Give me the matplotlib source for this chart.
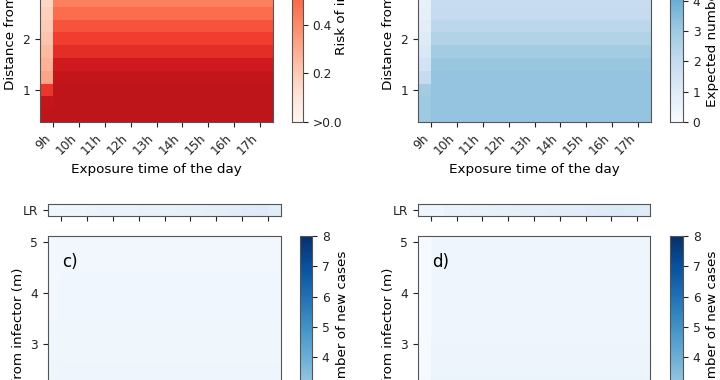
import matplotlib
matplotlib.use("Agg")
import matplotlib.pyplot as plt
import numpy as np

# grid: half-hour exposure slots and 0.25 m distance rows
TIME_EDGES = [8.5, 9.0, 9.5, 10.0, 10.5, 11.0, 11.5, 12.0, 12.5, 13.0,
              13.5, 14.0, 14.5, 15.0, 15.5, 16.0, 16.5, 17.0, 17.5]
DIST_EDGES = [0.375, 0.625, 0.875, 1.125, 1.375, 1.625, 1.875, 2.125, 2.375,
              2.625, 2.875, 3.125, 3.375, 3.625, 3.875, 4.125, 4.375, 4.625,
              4.875, 5.125]
HOUR_TICKS = [9, 10, 11, 12, 13, 14, 15, 16, 17]
HOUR_LABELS = ["9h", "10h", "11h", "12h", "13h", "14h", "15h", "16h", "17h"]

# a) risk of infection, per distance row (0.5 m .. 5.0 m)
risk_rows = [0.79, 0.79, 0.79, 0.78, 0.74, 0.67, 0.62, 0.56, 0.49, 0.43,
             0.38, 0.34, 0.30, 0.27, 0.24, 0.21, 0.19, 0.17, 0.15]
risk_first_slot = [0.79, 0.78, 0.64, 0.32, 0.28, 0.25, 0.22, 0.20, 0.18, 0.16,
                   0.14, 0.13, 0.12, 0.11, 0.10, 0.09, 0.08, 0.07, 0.07]

# b) expected number of new cases
cases_b_rows = [3.2, 3.2, 3.2, 3.2, 3.1, 2.9, 2.5, 2.25, 2.0, 1.85,
                1.7, 1.55, 1.45, 1.35, 1.25, 1.15, 1.05, 1.0, 0.95]
cases_b_first_slot = [3.0, 3.0, 2.9, 2.0, 1.5, 1.2, 1.0, 0.85, 0.75, 0.65,
                      0.6, 0.55, 0.5, 0.45, 0.4, 0.38, 0.35, 0.33, 0.3]

# c) and d) expected number of new cases
cases_c_rows = [0.9, 0.8, 0.7, 0.6, 0.55, 0.5, 0.45, 0.4, 0.36, 0.34,
                0.33, 0.32, 0.31, 0.30, 0.30, 0.29, 0.28, 0.28, 0.27]
cases_c_first_slot = [0.8, 0.7, 0.6, 0.5, 0.45, 0.4, 0.38, 0.35, 0.32, 0.3,
                      0.3, 0.29, 0.28, 0.27, 0.27, 0.26, 0.25, 0.25, 0.25]
cases_d_rows = [1.0, 0.9, 0.8, 0.7, 0.6, 0.55, 0.5, 0.46, 0.43, 0.42,
                0.41, 0.40, 0.40, 0.39, 0.38, 0.38, 0.37, 0.36, 0.36]
cases_d_first_slot = [0.6, 0.5, 0.4, 0.3, 0.2, 0.15, 0.12, 0.1, 0.08, 0.07,
                      0.06, 0.06, 0.05, 0.05, 0.05, 0.04, 0.04, 0.04, 0.04]

# LR strips above c) and d)
lr_c = [0.30, 0.35, 0.40, 0.45, 0.50, 0.50, 0.55, 0.60, 0.60,
        0.65, 0.70, 0.70, 0.75, 0.80, 0.85, 0.95, 1.00, 0.90]
lr_d = [0.35, 0.40, 0.50, 0.55, 0.60, 0.65, 0.70, 0.75, 0.80,
        0.80, 0.85, 0.85, 0.90, 0.95, 1.05, 1.10, 1.05, 0.95]

W, H = 720, 380
SPINE = "#555555"


def px(left, top, w, h):
    return [left / W, 1 - (top + h) / H, w / W, h / H]


def make_grid(rows, first):
    grid = np.repeat(np.array(rows)[:, None], len(TIME_EDGES) - 1, axis=1)
    grid[:, 0] = first
    return grid


def style(ax):
    for s in ax.spines.values():
        s.set_color(SPINE)
    ax.tick_params(colors="#222222", labelsize=8.8)


def heat_panel(fig, rect, cbar_rect, grid, cmap, vmax, cbar_ticks, cbar_labels,
               label, tag=None):
    ax = fig.add_axes(px(*rect))
    mesh = ax.pcolormesh(TIME_EDGES, DIST_EDGES, grid, cmap=cmap, vmin=0, vmax=vmax)
    ax.set_xlim(TIME_EDGES[0], TIME_EDGES[-1])
    ax.set_ylim(DIST_EDGES[0], DIST_EDGES[-1])
    ax.set_xticks(HOUR_TICKS)
    ax.set_xticklabels(HOUR_LABELS, rotation=45, ha="right")
    ax.set_yticks([1, 2, 3, 4, 5])
    ax.set_xlabel("Exposure time of the day", fontsize=9.7)
    ax.set_ylabel("Distance from infector (m)", fontsize=9.7)
    style(ax)
    if tag:
        ax.text(0.06, 0.93, tag, transform=ax.transAxes, fontsize=12,
                va="top", ha="left")
    cax = fig.add_axes(px(*cbar_rect))
    cb = fig.colorbar(mesh, cax=cax)
    cb.set_ticks(cbar_ticks)
    cb.set_ticklabels(cbar_labels)
    cb.outline.set_edgecolor(SPINE)
    cb.set_label(label, fontsize=9.7)
    style(cax)
    return ax, cax


def lr_strip(fig, rect, values):
    ax = fig.add_axes(px(*rect))
    ax.pcolormesh(TIME_EDGES, [0, 1], np.array([values]), cmap="Blues", vmin=0, vmax=8)
    ax.set_xlim(TIME_EDGES[0], TIME_EDGES[-1])
    ax.set_xticks(HOUR_TICKS)
    ax.set_xticklabels([])
    ax.set_yticks([0.5])
    ax.set_yticklabels(["LR"])
    style(ax)
    return ax


fig = plt.figure(figsize=(7.2, 3.8), dpi=100)

ax_a, cax_a = heat_panel(fig, (40, -121, 233, 243), (292, -121, 11, 243),
                         make_grid(risk_rows, risk_first_slot), "Reds", 1.0,
                         [0, 0.2, 0.4, 0.6, 0.8, 1.0],
                         [">0.0", "0.2", "0.4", "0.6", "0.8", "1.0"],
                         "Risk of infection")
cax_a.yaxis.set_label_coords(3.95, 0.5)

heat_panel(fig, (418, -121, 233, 243), (670, -121, 13, 243),
           make_grid(cases_b_rows, cases_b_first_slot), "Blues", 8,
           list(range(9)), [str(i) for i in range(9)],
           "Expected number of new cases")

ax_c, cax_c = heat_panel(fig, (48, 236, 233, 242), (300, 236, 12, 242),
                         make_grid(cases_c_rows, cases_c_first_slot), "Blues", 8,
                         list(range(9)), [str(i) for i in range(9)],
                         "Expected number of new cases", tag="c)")
cax_c.yaxis.set_label_coords(3.0, 0.5)

heat_panel(fig, (418, 236, 232, 242), (670, 236, 13, 242),
           make_grid(cases_d_rows, cases_d_first_slot), "Blues", 8,
           list(range(9)), [str(i) for i in range(9)],
           "Expected number of new cases", tag="d)")

lr_strip(fig, (48, 204, 233, 12), lr_c)
lr_strip(fig, (418, 204, 232, 12), lr_d)

fig.savefig("out.png", dpi=100)
